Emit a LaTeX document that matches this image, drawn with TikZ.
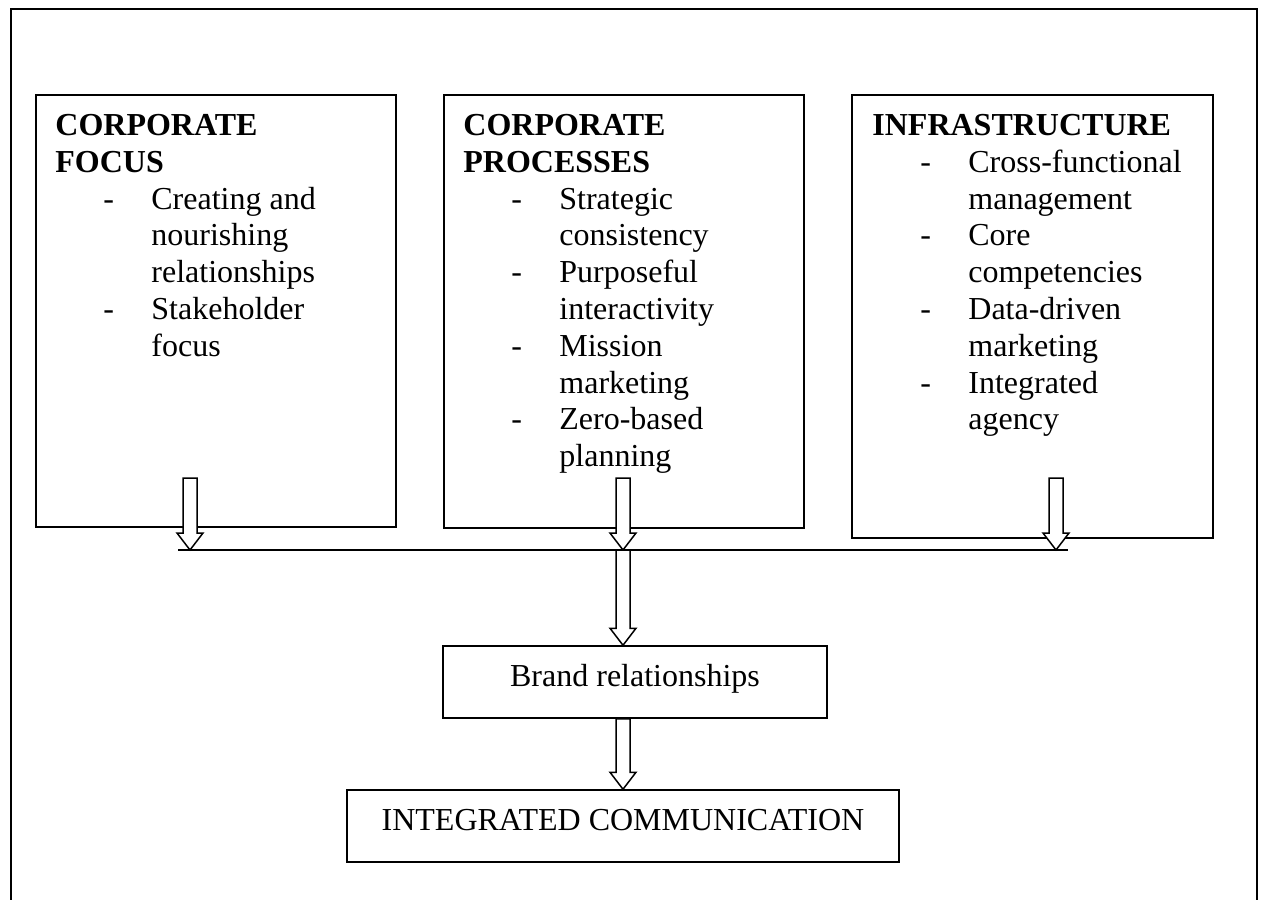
\documentclass[tikz,border=0pt]{standalone}
\usepackage{fontspec}
\setmainfont{Liberation Serif}
\usetikzlibrary{positioning,calc}

\tikzset{
  panel/.style={draw, line width=0.75pt, anchor=north west, inner sep=0pt},
  panelhead/.style={align=left, inner sep=0pt, font=\fontsize{16}{18.4}\selectfont},
  flowbox/.style={draw, line width=0.75pt, font=\fontsize{16}{18.4}\selectfont, text height=10pt, text depth=6pt},
  blockarrow/.style={draw, line width=0.75pt, fill=white, line join=miter}
}
\newcommand{\dashitem}[1]{\hspace*{24pt}\makebox[24pt][l]{-}#1}
\newcommand{\moreitem}[1]{\hspace*{48pt}#1}
\newcommand{\fatarrow}[2]{%
  \draw[blockarrow] let \p1=(#1), \p2=(#2) in
    (\x1-3.5pt,\y1) -- (\x1-3.5pt,\y2+8.5pt) -- (\x1-6.5pt,\y2+8.5pt) -- (\x1,\y2)
    -- (\x1+6.5pt,\y2+8.5pt) -- (\x1+3.5pt,\y2+8.5pt) -- (\x1+3.5pt,\y1) -- cycle;}

\begin{document}
\begin{tikzpicture}[x=0.5pt, y=-0.5pt]
\useasboundingbox (0,0) rectangle (1265,900);
% outer frame, open at the bottom
\draw[line width=0.75pt] (11,900) -- (11,9) -- (1257,9) -- (1257,900);

% three top panels
\node[panel, minimum width=180pt, minimum height=216pt] (focus) at (35,94) {};
\node[panel, minimum width=180pt, minimum height=216.5pt] (process) at (443,94) {};
\node[panel, minimum width=180.5pt, minimum height=221.5pt] (infra) at (851,94) {};

\node[panelhead, below right=10pt and 10pt of focus.north west] (focustxt) {%
  \textbf{CORPORATE}\\ \textbf{FOCUS}\\
  \dashitem{Creating and}\\ \moreitem{nourishing}\\ \moreitem{relationships}\\
  \dashitem{Stakeholder}\\ \moreitem{focus}};
\node[panelhead, below right=10pt and 10pt of process.north west] (processtxt) {%
  \textbf{CORPORATE}\\ \textbf{PROCESSES}\\
  \dashitem{Strategic}\\ \moreitem{consistency}\\
  \dashitem{Purposeful}\\ \moreitem{interactivity}\\
  \dashitem{Mission}\\ \moreitem{marketing}\\
  \dashitem{Zero-based}\\ \moreitem{planning}};
\node[panelhead, below right=10pt and 10.5pt of infra.north west] (infratxt) {%
  \textbf{INFRASTRUCTURE}\\
  \dashitem{Cross-functional}\\ \moreitem{management}\\
  \dashitem{Core}\\ \moreitem{competencies}\\
  \dashitem{Data-driven}\\ \moreitem{marketing}\\
  \dashitem{Integrated}\\ \moreitem{agency}};

% collecting line
\coordinate (busL) at (178,550);
\coordinate (busR) at (1068,550);
\coordinate (busmid) at (623,550);
\draw[line width=0.75pt] (busL) -- (busR);

\coordinate (focusout) at (190,478);
\coordinate (processout) at (623,478);
\coordinate (infraout) at (1056,478);
\fatarrow{focusout}{busL}
\fatarrow{processout}{busL}
\fatarrow{infraout}{busL}

% lower boxes
\node[flowbox, minimum width=192pt, minimum height=36pt] (brand) at (635,682) {Brand relationships};
\node[flowbox, minimum width=276pt, minimum height=36pt] (ic) at (623,826) {INTEGRATED COMMUNICATION};

\fatarrow{busmid}{brand.north}
\fatarrow{brand.south -| busmid}{ic.north}
\end{tikzpicture}
\end{document}
